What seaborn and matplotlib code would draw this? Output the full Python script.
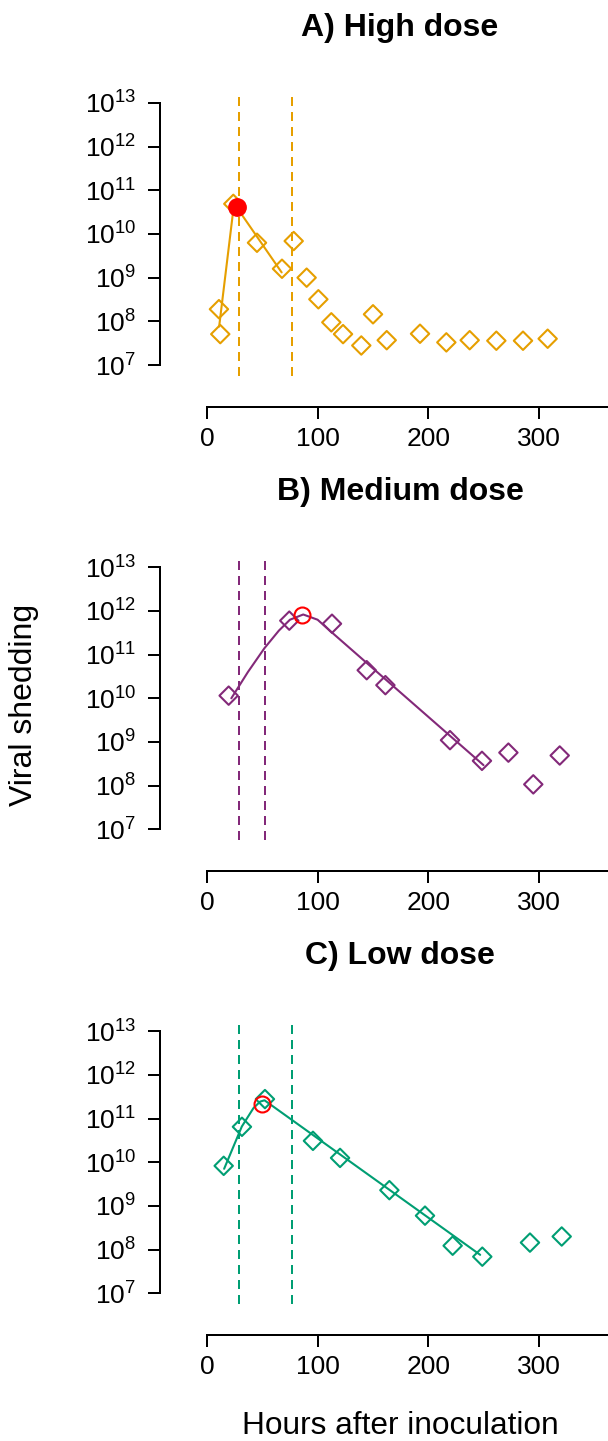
import numpy as np
import pandas as pd
import matplotlib
matplotlib.use("Agg")
import matplotlib.pyplot as plt
import seaborn as sns

# ---------------------------------------------------
# 1. style
# ---------------------------------------------------
sns.set_style("ticks", {"axes.edgecolor": "black", "xtick.color": "black",
                        "ytick.color": "black", "text.color": "black"})
plt.rcParams['font.family'] = ['Liberation Sans', 'DejaVu Sans']
plt.rcParams['mathtext.fontset'] = 'custom'
plt.rcParams['mathtext.rm'] = 'Liberation Sans'
plt.rcParams['mathtext.it'] = 'Liberation Sans:italic'
plt.rcParams['mathtext.bf'] = 'Liberation Sans:bold'

# ---------------------------------------------------
# 2. data
# ---------------------------------------------------
titles = ["A) High dose", "B) Medium dose", "C) Low dose"]
colors = ["#E69F00", "#832979", "#009E73"]

# observed shedding (diamonds)
high_hours = [10.8, 12, 23.8, 45.2, 67.8, 78.4, 90.1, 100.7, 112.4, 123, 139.5,
              150.1, 162.5, 192.6, 216.4, 237.5, 261.6, 285.7, 308]
high_shed = [1.9e8, 5.1e7, 4.9e10, 6.3e9, 1.6e9, 6.9e9, 1.0e9, 3.2e8, 9.5e7, 5.1e7,
             2.8e7, 1.45e8, 3.7e7, 5.2e7, 3.3e7, 3.7e7, 3.6e7, 3.6e7, 4.0e7]

med_hours = [19.6, 74.4, 113, 144.4, 161.3, 219.7, 248.6, 272.5, 295, 318.9]
med_shed = [1.15e10, 6.0e11, 5.1e11, 4.4e10, 2.0e10, 1.1e9, 3.7e8, 5.7e8, 1.07e8, 4.9e8]

low_hours = [15.1, 31.6, 52.4, 95.8, 120.3, 164.9, 197.1, 222.1, 248.9, 292, 320.7]
low_shed = [8.3e9, 6.5e10, 2.8e11, 3.1e10, 1.26e10, 2.3e9, 6.0e8, 1.23e8, 6.9e7,
            1.45e8, 2.0e8]

# fitted curves
high_fit_hours = [11, 24.5, 67.5]
high_fit = [7.6e7, 5.0e10, 1.32e9]
med_fit_hours = [22, 37, 52, 65, 75, 87, 100, 111, 250]
med_fit = [1.0e10, 4.0e10, 1.41e11, 3.55e11, 6.3e11, 8.3e11, 6.3e11, 3.55e11, 2.95e8]
low_fit_hours = [15.5, 31.5, 42, 48, 52, 247]
low_fit = [7.1e9, 6.6e10, 1.74e11, 2.45e11, 2.63e11, 7.6e7]

# peak estimates (red)
peak_hours = [26.8, 85.9, 49.7]
peak_shed = [4.1e10, 7.9e11, 2.2e11]
peak_filled = [True, False, False]

# dashed reference times
vline_hours = [[28.6, 76.9], [28.6, 52.7], [28.6, 76.9]]

obs = [(high_hours, high_shed), (med_hours, med_shed), (low_hours, low_shed)]
fits = [(high_fit_hours, high_fit), (med_fit_hours, med_fit), (low_fit_hours, low_fit)]

ytick_pows = [7, 8, 9, 10, 11, 12, 13]
xticks = [0, 100, 200, 300]

# ---------------------------------------------------
# 3. figure
# ---------------------------------------------------
W, H = 608, 1441
fig = plt.figure(figsize=(W / 100, H / 100), dpi=100)

xlim = (-14, 363)
left_px, right_px = 191.5, 608.5
bottoms_px = [375.5, 839.8, 1303.8]
height_px = 283

for i in range(3):
    ax = fig.add_axes([left_px / W, 1 - bottoms_px[i] / H,
                       (right_px - left_px) / W, height_px / H])
    col = colors[i]

    for v in vline_hours[i]:
        ax.axvline(v, color=col, lw=1.44, ls=(0, (4.5, 3)))

    fd = pd.DataFrame({"hours": fits[i][0], "shed": fits[i][1]})
    sns.lineplot(data=fd, x="hours", y="shed", ax=ax, color=col, lw=1.5,
                 sort=False, estimator=None)

    od = pd.DataFrame({"hours": obs[i][0], "shed": obs[i][1]})
    sns.scatterplot(data=od, x="hours", y="shed", ax=ax, marker="D", s=88,
                    facecolor="none", edgecolor=col, linewidth=1.5, zorder=3)

    if peak_filled[i]:
        ax.plot([peak_hours[i]], [peak_shed[i]], "o", ms=12.5, color="red",
                mec="red", mew=1.0, zorder=4)
    else:
        ax.plot([peak_hours[i]], [peak_shed[i]], "o", ms=11.5, mfc="none",
                mec="red", mew=1.5, zorder=4)

    ax.set_yscale("log")
    ax.set_ylim(10 ** 6.76, 10 ** 13.24)
    ax.set_xlim(*xlim)
    ax.set_yticks([10.0 ** p for p in ytick_pows])
    ax.set_yticklabels(["$10^{%d}$" % p for p in ytick_pows])
    ax.yaxis.set_minor_locator(matplotlib.ticker.NullLocator())
    ax.set_xticks(xticks)
    ax.set_xlabel("")
    ax.set_ylabel("")

    sns.despine(ax=ax, offset=22.8)
    ax.spines["left"].set_bounds(1e7, 1e13)
    ax.spines["bottom"].set_bounds(0, xlim[1])
    for s in ["left", "bottom"]:
        ax.spines[s].set_linewidth(1.44)
    ax.tick_params(axis="both", length=8.6, width=1.44, labelsize=19)
    ax.tick_params(axis="x", pad=5.5)
    ax.tick_params(axis="y", pad=8.5)

    ax.set_title(titles[i], fontsize=23, fontweight="bold", pad=40.7)

fig.text(24 / W, 1 - 705 / H, "Viral shedding", rotation=90, fontsize=23,
         ha="center", va="center")
fig.text(400 / W, 1 - 1434 / H, "Hours after inoculation", fontsize=22.8,
         ha="center", va="baseline")

fig.savefig("out.png", dpi=100)
